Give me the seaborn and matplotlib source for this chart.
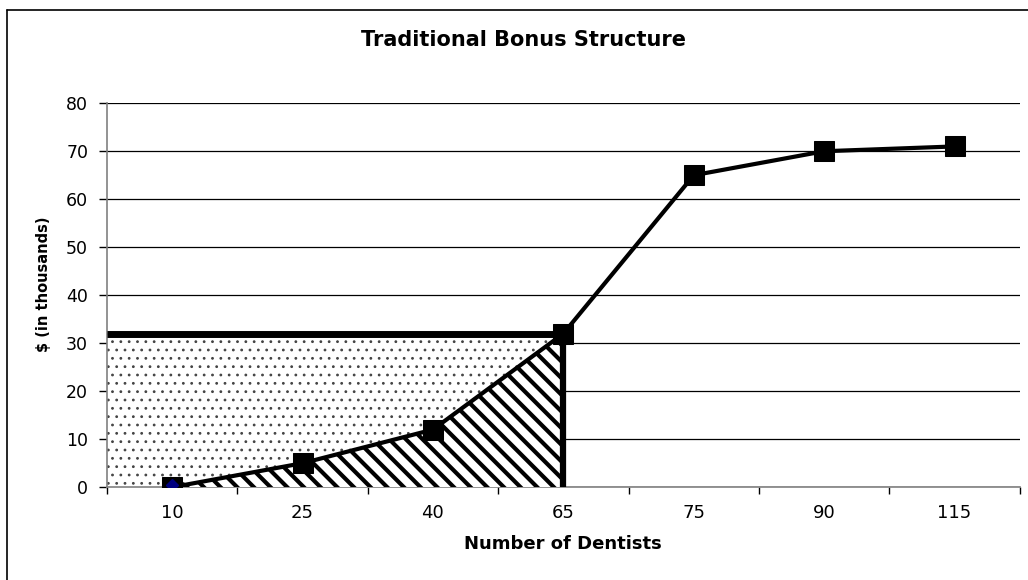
import numpy as np
import pandas as pd
import seaborn as sns
import matplotlib.pyplot as plt
from matplotlib.lines import Line2D

# data
dentists = ["10", "25", "40", "65", "75", "90", "115"]
bonus = [0, 5, 12, 32, 65, 70, 71]
target = "65"        # dentist count where the bonus tops out
target_bonus = 32    # bonus at that target ($ thousands)

df = pd.DataFrame({"dentists": dentists, "bonus": bonus})

sns.set_theme(style="white")
plt.rcParams["font.family"] = ["DejaVu Sans"]
plt.rcParams["text.color"] = "black"

fig = plt.figure(figsize=(10.28, 5.8), dpi=100)
ax = fig.add_axes([0.104, 0.160, 0.888, 0.662])

# main line with square markers
sns.lineplot(data=df, x="dentists", y="bonus", color="black", lw=3,
             marker="s", markersize=14, markeredgecolor="black",
             ax=ax, zorder=5)

ti = dentists.index(target)
xs = np.arange(ti + 1)
ys = np.array(bonus[: ti + 1])

# dotted area between the curve and the target bonus
with plt.rc_context({"hatch.linewidth": 0.8}):
    ax.fill_between(np.r_[-0.5, xs], np.r_[0, ys], target_bonus,
                    facecolor="white", edgecolor="#444444", hatch="..",
                    lw=0, zorder=2)
# striped area under the curve
with plt.rc_context({"hatch.linewidth": 3.0}):
    ax.fill_between(xs, 0, ys, facecolor="white", edgecolor="black",
                    hatch="\\\\", lw=0, zorder=3)

ax.hlines(target_bonus, -0.5, ti, color="black", lw=5, zorder=4)
ax.vlines(ti, 0, target_bonus, color="black", lw=4.5, zorder=4)
ax.plot(0, bonus[0] + 0.5, marker="D", color="#000080", ms=6, zorder=6)

ax.set_xlim(-0.5, len(dentists) - 0.5)
ax.set_ylim(0, 80)
ax.set_yticks(range(0, 81, 10))
ax.set_xticks(range(len(dentists)), dentists)
ax.set_xticks(np.arange(-0.5, len(dentists)), minor=True)
ax.tick_params(axis="x", which="major", length=0, pad=12, labelsize=13,
               labelcolor="black")
ax.tick_params(axis="x", which="minor", length=5, width=1, color="black",
               direction="out", bottom=True)
ax.tick_params(axis="y", length=5.5, width=1, color="black", direction="out",
               left=True, pad=8, labelsize=12.5, labelcolor="black")

ax.yaxis.grid(True, color="black", lw=0.9)
ax.set_axisbelow(True)
for side in ["top", "right"]:
    ax.spines[side].set_visible(False)
for side in ["left", "bottom"]:
    ax.spines[side].set_color("#808080")
    ax.spines[side].set_linewidth(1.2)
ax.set_xlabel("")
ax.set_ylabel("")

fig.text(0.509, 0.931, "Traditional Bonus Structure", ha="center",
         va="center", fontsize=15, fontweight="bold")
fig.text(0.548, 0.062, "Number of Dentists", ha="center", va="center",
         fontsize=13, fontweight="bold")
fig.text(0.042, 0.510, "$ (in thousands)", ha="center", va="center",
         rotation=90, fontsize=10.5, fontweight="bold")

# chart frame (left and top edges)
fig.add_artist(Line2D([0.007, 0.007], [0, 0.982], transform=fig.transFigure,
                      color="black", lw=1.2))
fig.add_artist(Line2D([0.007, 1.0], [0.982, 0.982], transform=fig.transFigure,
                      color="black", lw=1.2))

fig.savefig("out.png", dpi=100)
